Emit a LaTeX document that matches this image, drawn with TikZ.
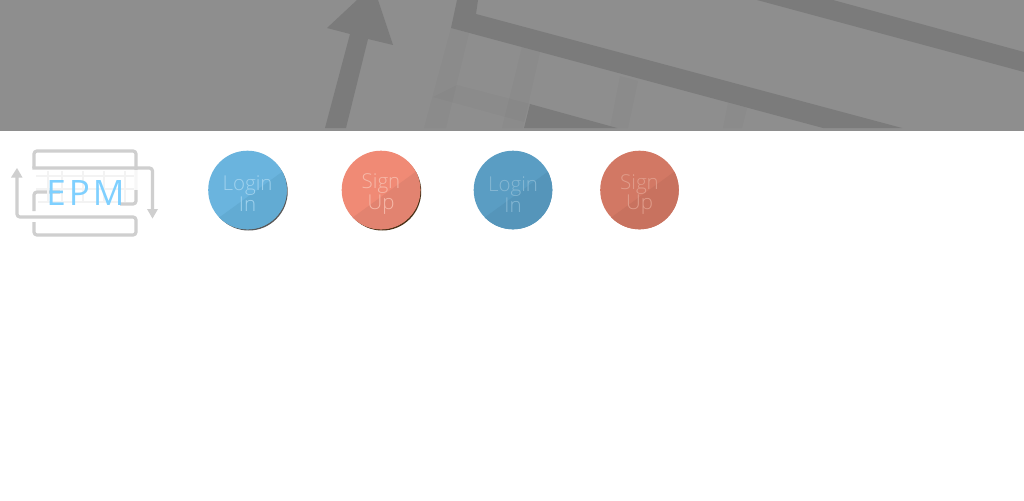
\documentclass[tikz,border=0pt]{standalone}
\usepackage{fontspec}
\setmainfont{Open Sans}[UprightFont=* Light]
\newfontfamily\epmfont{Open Sans}
\definecolor{banner}{HTML}{8E8E8E}
\definecolor{bandc}{HTML}{7B7B7B}
\definecolor{logoc}{HTML}{CFCFCF}
\definecolor{gridc}{HTML}{F3F3F3}
\definecolor{epmc}{HTML}{7FD0FF}
\definecolor{aL}{HTML}{6AB4DE}\definecolor{aD}{HTML}{62ABD3}\definecolor{aT}{HTML}{A0D2EE}
\definecolor{bL}{HTML}{F08A75}\definecolor{bD}{HTML}{E28370}\definecolor{bT}{HTML}{F6B9A9}
\definecolor{cL}{HTML}{5A9DC3}\definecolor{cD}{HTML}{5595BA}\definecolor{cT}{HTML}{85B7D3}
\definecolor{dL}{HTML}{D27864}\definecolor{dD}{HTML}{C8725F}\definecolor{dT}{HTML}{E09D8B}
\tikzset{
  x=1pt,y=-1pt,
  bandshape/.style={fill=bandc,draw=none},
  faint/.style={fill=black,fill opacity=0.018,draw=none},
  logoline/.style={draw=logoc,line width=3.2pt,rounded corners=3pt},
  logohead/.style={fill=logoc,draw=none},
  gridline/.style={draw=gridc,line width=1.6pt},
  btntext/.style={font=\fontsize{20.5}{20.5}\selectfont,align=center,inner sep=0pt},
}
\newcommand{\halfdisc}[3]{%
  \fill[#2] (#1,190) circle[radius=39.3];
  \begin{scope}
    \clip (#1,190) circle[radius=39.3];
    \fill[#3] (#1-40,226) -- (#1+45,164.3) -- (#1+45,232) -- (#1-40,232) -- cycle;
  \end{scope}}
\begin{document}
\begin{tikzpicture}
\useasboundingbox (0,0) rectangle (1024,500);
\fill[white] (0,0) rectangle (1024,500);
\fill[banner] (0,0) rectangle (1024,131);
% faint strips
\fill[faint] (451,28) -- (469,33) -- (446,128) -- (424,128) -- cycle;
\fill[faint] (522,47) -- (540,52) -- (523,128) -- (502,128) -- cycle;
\fill[faint] (620,76) -- (638,81) -- (628,128) -- (610,128) -- cycle;
\fill[faint] (728,103) -- (747,108) -- (742,128) -- (723,128) -- cycle;
\fill[faint] (457,85) -- (530,104) -- (524,122) -- (433,97) -- cycle;
% arrow
\fill[bandshape] (325,128) -- (350,34) -- (327,28) -- (357,0) -- (378,0) -- (393,45) -- (368,39) -- (346,128) -- cycle;
% main bands
\fill[bandshape] (457,0) -- (478,0) -- (476,14) -- (902,128) -- (823,128) -- (451,28) -- cycle;
\fill[bandshape] (757,0) -- (833,0) -- (1024,52) -- (1024,72) -- cycle;
\fill[bandshape] (530,104) -- (617,128) -- (524,128) -- cycle;
% logo
\draw[logoline] (34,168) -- (34,151) -- (136,151) -- (136,204) -- (120,204);
\draw[logoline] (32.4,168) -- (152.5,168) -- (152.5,210);
\draw[logoline] (17,177) -- (17,217) -- (136,217) -- (136,235) -- (34,235) -- (34,222);
\draw[logoline] (60,192) -- (34,192) -- (34,211);
\fill[logohead] (147,209) -- (158,209) -- (152.5,218.5) -- cycle;
\fill[logohead] (11,177.5) -- (22.5,177.5) -- (17,168) -- cycle;
\fill[white,opacity=0.85] (32,170) rectangle (138,190);
\foreach \gx in {48,62,83,104,125}{\draw[gridline] (\gx,171) -- (\gx,202);}
\foreach \gy in {176,189}{\draw[gridline] (36,\gy) -- (134,\gy);}
\draw[gridline] (38,202) -- (118,202);
\node[text=epmc,inner sep=0pt,font=\epmfont\fontsize{35}{35}\selectfont] (epm) at (85.5,193.5) {E\kern3pt P\kern3pt M};
% buttons
\fill[black!65] (248.7,191.5) circle[radius=39];
\halfdisc{247.5}{aL}{aD}
\node[btntext,text=aT] (b1) at (247.5,193.5) {Login\\In};
\fill[black!60!brown] (382.2,191.5) circle[radius=39];
\halfdisc{381}{bL}{bD}
\node[btntext,text=bT] (b2) at (381,194) {Sign\\Up};
\halfdisc{513}{cL}{cD}
\node[btntext,text=cT] (b3) at (513,194.5) {Login\\In};
\halfdisc{639.5}{dL}{dD}
\node[btntext,text=dT] (b4) at (639.5,194.5) {Sign\\Up};
\end{tikzpicture}
\end{document}
